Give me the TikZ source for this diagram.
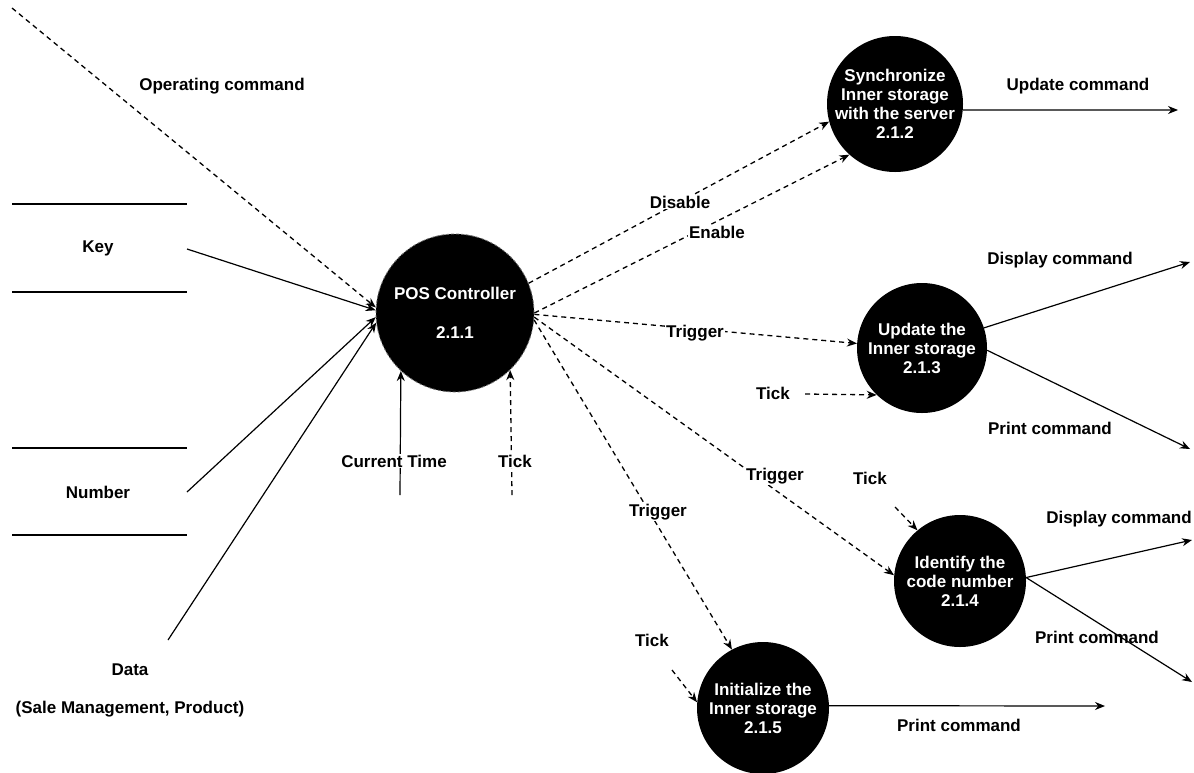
\documentclass[tikz,border=0pt]{standalone}
\usepackage{fontspec}
\setmainfont{Liberation Sans}
\usetikzlibrary{arrows.meta}
\begin{document}
\begin{tikzpicture}[x=1pt,y=-1pt,
  txt/.style={font=\fontsize{17}{19}\selectfont\bfseries, inner sep=1pt},
  lbl/.style={txt, fill=white},
  proc/.style={circle, fill=black, minimum size=#1, inner sep=0pt},
  proctext/.style={txt, text=white, align=center},
  flow/.style={line width=1.2pt, -{Stealth[length=10pt,width=8pt]}},
  ctrl/.style={flow, line width=1.3pt, dash pattern=on 5pt off 4pt},
  storeline/.style={line width=1.2pt}]
\useasboundingbox (0,0) rectangle (1194,772);

% processes
\node[proc=158pt, draw=black!55, dash pattern=on 3pt off 2pt, line width=0.8pt,
      label={[proctext]center:{POS Controller\\[20pt]2.1.1}}] (pos) at (455,313) {};
\node[proc=136pt, label={[proctext]center:{Synchronize\\Inner storage\\with the server\\2.1.2}}] (s2) at (895,104) {};
\node[proc=130pt, label={[proctext]center:{Update the\\Inner storage\\2.1.3}}] (s3) at (922,348) {};
\node[proc=132pt, label={[proctext]center:{Identify the\\code number\\2.1.4}}] (s4) at (960,581) {};
\node[proc=132pt, label={[proctext]center:{Initialize the\\Inner storage\\2.1.5}}] (s5) at (763,708) {};

% data stores
\draw[storeline] (12,204) -- (187,204);
\draw[storeline] (12,292) -- (187,292);
\node[txt] (key) at (98,248) {Key};
\draw[storeline] (12,448) -- (187,448);
\draw[storeline] (12,535) -- (187,535);
\node[txt] (number) at (98,492) {Number};

% free ends
\coordinate (opsrc) at (12,8);
\coordinate (keyout) at (187,249);
\coordinate (numout) at (187,492);
\coordinate (datasrc) at (168,640);
\coordinate (timesrc) at (400,495);
\coordinate (ticksrc) at (512,495);
\coordinate (tick3) at (805,394);
\coordinate (tick4) at (895,507);
\coordinate (tick5) at (672,670);
\coordinate (upd) at (1178,110);
\coordinate (disp3) at (1190,262);
\coordinate (prt3) at (1190,449);
\coordinate (disp4) at (1192,540);
\coordinate (prt4) at (1192,682);
\coordinate (prt5) at (1105,706);

% inputs to the controller
\draw[ctrl] (opsrc) -- (pos.176);
\draw[flow] (keyout) -- (pos.178);
\draw[flow] (numout) -- (pos.183);
\draw[flow] (datasrc) -- (pos.187);
\draw[flow] (timesrc) -- (pos.227);
\draw[ctrl] (ticksrc) -- (pos.314);

% controller outputs
\draw[ctrl] (pos.22) -- (s2.195);
\draw[ctrl] (pos.0) -- (s2.228);
\draw[ctrl] (pos.-1) -- (s3.176);
\draw[ctrl] (pos.-3) -- (s4.175);
\draw[ctrl] (pos.-5) -- (s5.118);
\draw[ctrl] (tick3) -- (s3.226);
\draw[ctrl] (tick4) -- (s4.130);
\draw[ctrl] (tick5) -- (s5.175);

% process outputs
\draw[flow] (s2.-5) -- (upd);
\draw[flow] (s3.18) -- (disp3);
\draw[flow] (s3.-2) -- (prt3);
\draw[flow] (s4.3) -- (disp4);
\draw[flow] (s4.3) -- (prt4);
\draw[flow] (s5.2) -- (prt5);

% flow labels
\node[txt] (lop) at (222,86) {Operating command};
\node[txt] (ldata) at (130,670) {Data};
\node[txt] (ldata2) at (130,709) {(Sale Management, Product)};
\node[lbl] (ltime) at (394,461) {Current Time};
\node[lbl] (ltick1) at (515,461) {Tick};
\node[lbl] (ldis) at (680,202) {Disable};
\node[lbl] (len) at (717,232) {Enable};
\node[lbl] (ltr3) at (695,333) {Trigger};
\node[txt] (ltick3) at (773,393) {Tick};
\node[lbl] (ltr4) at (775,476) {Trigger};
\node[txt] (ltick4) at (870,478) {Tick};
\node[lbl] (ltr5) at (658,512) {Trigger};
\node[txt] (ltick5) at (652,640) {Tick};
\node[txt] (lupd) at (1078,86) {Update command};
\node[txt] (ldisp3) at (1060,260) {Display command};
\node[txt] (lprt3) at (1050,428) {Print command};
\node[txt] (ldisp4) at (1119,519) {Display command};
\node[txt] (lprt4) at (1097,637) {Print command};
\node[txt] (lprt5) at (959,725) {Print command};
\end{tikzpicture}
\end{document}
